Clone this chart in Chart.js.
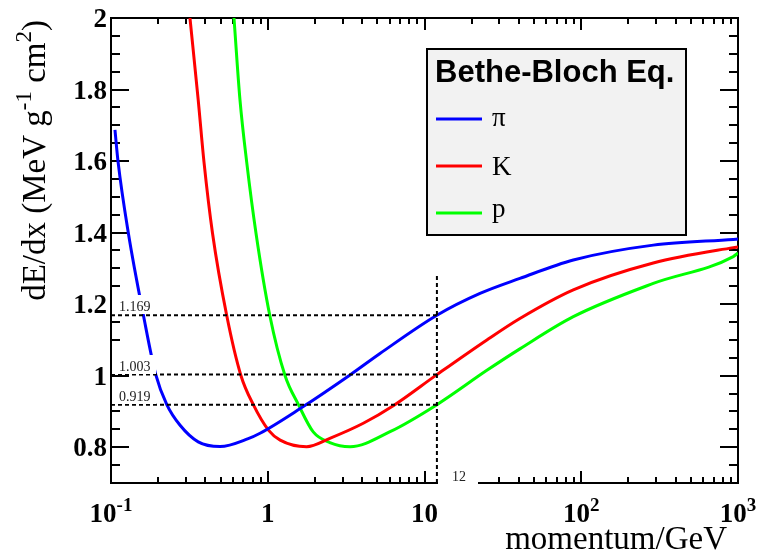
<!DOCTYPE html>
<html>
<head>
<meta charset="utf-8">
<script src="https://cdn.jsdelivr.net/npm/chart.js@4.4.1/dist/chart.umd.min.js"></script>
<style>
html,body{margin:0;padding:0;background:#fff;}
canvas{display:block;}
</style>
</head>
<body>
<canvas id="bb" width="773" height="555"></canvas>
<script>
// momentum (GeV) and dE/dx (MeV g^-1 cm^2)
var PI_P=[0.106,0.111,0.129,0.161,0.193,0.227,0.275,0.36,0.496,0.751,0.893,1.61,3.35,5.2,12,22.6,40.6,89,288,933,1000];
var PI_DEDX=[1.687,1.597,1.399,1.169,1.003,0.919,0.862,0.815,0.802,0.824,0.839,0.908,1.002,1.062,1.169,1.23,1.272,1.3235,1.365,1.381,1.382];
var K_P=[0.319,0.36,0.392,0.444,0.547,0.675,0.809,1.01,1.2,1.77,2.49,4.07,6.32,12,25,40.6,89,288,933,1000];
var K_DEDX=[2.0,1.771,1.597,1.399,1.169,1.0,0.919,0.848,0.82,0.8016,0.825,0.867,0.916,1.003,1.10,1.16,1.24,1.315,1.358,1.36];
var PR_P=[0.609,0.665,0.734,0.841,1.03,1.29,1.57,1.95,2.49,3.35,6.03,12,25,40.6,89,288,933,1000];
var PR_DEDX=[2.0,1.771,1.597,1.399,1.169,1.0,0.919,0.843,0.813,0.8016,0.8435,0.919,1.015,1.075,1.165,1.258,1.333,1.343];

var SERIES_NAMES=['\u03c0','K','p'];
var SERIES_COLORS=['#0000ff','#ff0000','#00ff00'];
var LEGEND_TITLE='Bethe-Bloch Eq.';

// marker lines at p = 12 GeV
var MARK_P=12;
var MARK_TOP=1.286;
var MARK_DEDX=[1.169,1.003,0.919];
var MARK_LABELS=['1.169','1.003','0.919'];
var MARK_P_LABEL='12';

var X_MIN=0.1, X_MAX=1000, Y_MIN=0.7, Y_MAX=2.0;
var X_TICKS=[0.1,1,10,100,1000];
var X_TICK_LABELS=[['10','-1'],['1',''],['10',''],['10','2'],['10','3']];
var Y_TICKS=[0.8,1,1.2,1.4,1.6,1.8,2];
var Y_TICK_LABELS=['0.8','1','1.2','1.4','1.6','1.8','2'];
var X_TITLE='momentum/GeV';
var Y_TITLE=[['dE/dx (MeV g',0],['-1',1],[' cm',0],['2',1],[')',0]];

function pts(xs,ys){return xs.map(function(x,i){return {x:x,y:ys[i]};});}

var datasets=[];
[[PI_P,PI_DEDX],[K_P,K_DEDX],[PR_P,PR_DEDX]].forEach(function(s,i){
  datasets.push({label:SERIES_NAMES[i],data:pts(s[0],s[1]),borderColor:SERIES_COLORS[i],
    borderWidth:3,pointRadius:0,fill:false,cubicInterpolationMode:'monotone',order:2});
});
MARK_DEDX.forEach(function(v){
  datasets.push({label:'',data:[{x:X_MIN,y:v},{x:MARK_P,y:v}],borderColor:'#000',borderWidth:2,
    borderDash:[4,3],pointRadius:0,fill:false,tension:0,order:1});
});
datasets.push({label:'',data:[{x:MARK_P,y:Y_MIN},{x:MARK_P,y:MARK_TOP}],borderColor:'#000',borderWidth:2,
  borderDash:[4,3],pointRadius:0,fill:false,tension:0,order:1});

var SERIF='"Liberation Serif","Times New Roman",serif';
var SANS='"Liberation Sans",Arial,sans-serif';

// runs of [text, isSuperscript]
function runWidth(ctx,runs,size,bold){
  var w=0;
  runs.forEach(function(r){
    ctx.font=(bold?'bold ':'')+(r[1]?Math.round(size*0.7):size)+'px '+SERIF;
    w+=ctx.measureText(r[0]).width;
  });
  return w;
}
function drawRuns(ctx,runs,x,y,size,bold){
  runs.forEach(function(r){
    var s=r[1]?Math.round(size*0.7):size;
    ctx.font=(bold?'bold ':'')+s+'px '+SERIF;
    ctx.fillText(r[0],x,r[1]?y-size*0.42:y);
    x+=ctx.measureText(r[0]).width;
  });
}

var framePlugin={
  id:'frame',
  beforeDatasetsDraw:function(chart){
    var ctx=chart.ctx,a=chart.chartArea,xs=chart.scales.x,ys=chart.scales.y;
    ctx.save();
    ctx.strokeStyle='#000';ctx.lineWidth=2;
    ctx.beginPath();
    // y ticks every 0.05, major every 0.2
    for(var i=15;i<=40;i++){
      var y=Math.round(ys.getPixelForValue(i*0.05));
      var len=(i%4===0)?18:9;
      ctx.moveTo(a.left,y);ctx.lineTo(a.left+len,y);
      ctx.moveTo(a.right,y);ctx.lineTo(a.right-len,y);
    }
    // x ticks, log decades
    for(var d=-1;d<=2;d++){
      for(var k=1;k<=9;k++){
        var x=Math.round(xs.getPixelForValue(k*Math.pow(10,d)));
        var l=(k===1)?12:6;
        ctx.moveTo(x,a.bottom);ctx.lineTo(x,a.bottom-l);
        ctx.moveTo(x,a.top);ctx.lineTo(x,a.top+l);
      }
    }
    ctx.stroke();
    ctx.strokeRect(a.left,a.top,a.right-a.left,a.bottom-a.top);

    // tick labels
    ctx.fillStyle='#000';ctx.textBaseline='alphabetic';
    ctx.font='bold 27px '+SERIF;
    ctx.textAlign='right';
    Y_TICKS.forEach(function(v,i){
      ctx.fillText(Y_TICK_LABELS[i],a.left-4,ys.getPixelForValue(v)+9);
    });
    ctx.textAlign='left';
    X_TICKS.forEach(function(v,i){
      var x=xs.getPixelForValue(v);
      var runs=[[X_TICK_LABELS[i][0],0]];
      if(X_TICK_LABELS[i][1]) runs.push([X_TICK_LABELS[i][1],1]);
      var w=runWidth(ctx,runs,27,true);
      drawRuns(ctx,runs,x-w/2,522,27,true);
    });

    // axis titles
    ctx.font='33px '+SERIF;ctx.textAlign='right';
    ctx.fillText(X_TITLE,a.right-11,549);
    ctx.save();
    ctx.translate(45,20);ctx.rotate(-Math.PI/2);
    ctx.textAlign='left';
    var tw=runWidth(ctx,Y_TITLE,33,false);
    drawRuns(ctx,Y_TITLE,-tw,0,33,false);
    ctx.restore();
    ctx.restore();
  },
  afterDatasetsDraw:function(chart){
    var ctx=chart.ctx,a=chart.chartArea,xs=chart.scales.x,ys=chart.scales.y;
    ctx.save();
    // value boxes on the left
    MARK_DEDX.forEach(function(v,i){
      var y=Math.round(ys.getPixelForValue(v));
      ctx.fillStyle='#fff';
      ctx.fillRect(a.left+1,y-20,44,19);
      ctx.fillStyle='#222';ctx.font='14px '+SERIF;ctx.textAlign='left';
      ctx.fillText(MARK_LABELS[i],a.left+8,y-4);
    });
    // momentum box at the bottom
    var xm=Math.round(xs.getPixelForValue(MARK_P));
    ctx.fillStyle='#fff';
    ctx.fillRect(xm+1,a.bottom-15,40,20);
    ctx.fillStyle='#222';ctx.font='14px '+SERIF;
    ctx.fillText(MARK_P_LABEL,xm+15,a.bottom-2);

    // legend
    var lx=427,ly=49,lw=259,lh=186;
    ctx.fillStyle='#f2f2f2';ctx.fillRect(lx,ly,lw,lh);
    ctx.strokeStyle='#000';ctx.lineWidth=2;ctx.strokeRect(lx,ly,lw,lh);
    ctx.fillStyle='#000';ctx.font='bold 31px '+SANS;ctx.textAlign='left';
    ctx.fillText(LEGEND_TITLE,lx+8,ly+33);
    chart.data.datasets.slice(0,3).forEach(function(ds,i){
      var y=119+i*47;
      ctx.strokeStyle=ds.borderColor;ctx.lineWidth=3;
      ctx.beginPath();ctx.moveTo(lx+9,y);ctx.lineTo(lx+55,y);ctx.stroke();
      ctx.fillStyle='#000';ctx.font='27px '+SERIF;
      var m=ctx.measureText(ds.label);
      ctx.fillText(ds.label,lx+65,y+(m.actualBoundingBoxAscent-m.actualBoundingBoxDescent)/2);
    });
    ctx.restore();
  }
};

new Chart(document.getElementById('bb'),{
  type:'line',
  data:{datasets:datasets},
  options:{
    responsive:false,
    animation:false,
    devicePixelRatio:1,
    layout:{padding:{left:111,right:35,top:18,bottom:72}},
    plugins:{legend:{display:false},tooltip:{enabled:false}},
    scales:{
      x:{type:'logarithmic',min:X_MIN,max:X_MAX,display:false},
      y:{type:'linear',min:Y_MIN,max:Y_MAX,display:false}
    }
  },
  plugins:[framePlugin]
});
</script>
</body>
</html>
